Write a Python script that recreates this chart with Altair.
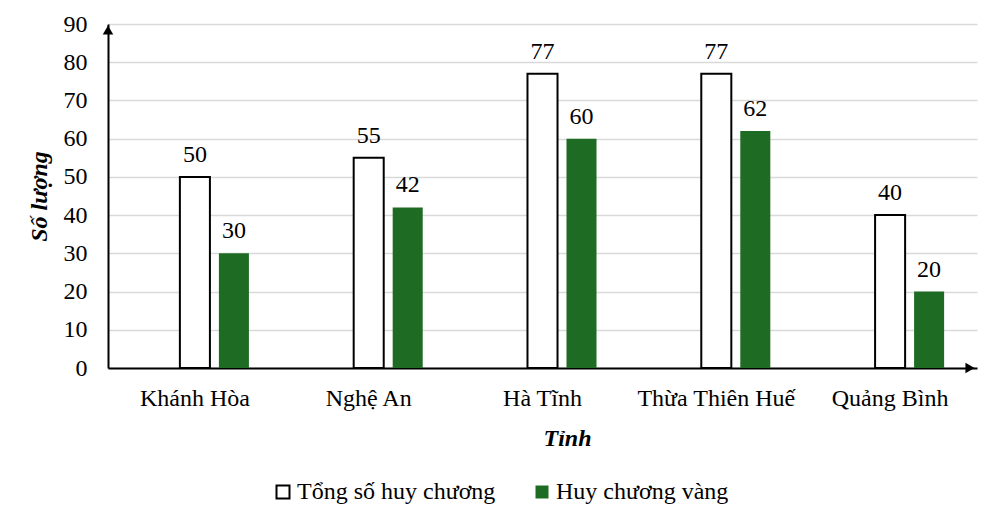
import altair as alt
import pandas as pd

provinces = ["Khánh Hòa", "Nghệ An", "Hà Tĩnh", "Thừa Thiên Huế", "Quảng Bình"]
total = [50, 55, 77, 77, 40]
gold = [30, 42, 60, 62, 20]
series = ["Tổng số huy chương", "Huy chương vàng"]
y_ticks = [0, 10, 20, 30, 40, 50, 60, 70, 80, 90]

rows = []
for p, t, g in zip(provinces, total, gold):
    rows.append({"Tỉnh": p, "Loại": series[0], "Số lượng": t})
    rows.append({"Tỉnh": p, "Loại": series[1], "Số lượng": g})
df = pd.DataFrame(rows)

FONT = "Liberation Serif"
FS = 24
GREEN = "#1e6b24"
W, H = 869, 344

x_enc = alt.X("Tỉnh:N", sort=provinces,
              scale=alt.Scale(paddingInner=0, paddingOuter=0),
              axis=alt.Axis(title="Tỉnh", labelAngle=0, labelFontSize=FS, labelColor="black",
                            labelPadding=18, ticks=False, domainColor="black", domainWidth=2,
                            labelLimit=0,
                            titleFontSize=FS, titleFontWeight="bold", titleFontStyle="italic",
                            titleColor="black", titlePadding=16, titleX=459, grid=False))
xo_enc = alt.XOffset("Loại:N", scale=alt.Scale(domain=[""] + series, paddingInner=0.23, paddingOuter=0.843))
y_enc = alt.Y("Số lượng:Q", scale=alt.Scale(domain=[0, 90], nice=False),
              axis=alt.Axis(title="Số lượng", values=y_ticks, labelFontSize=FS, labelColor="black",
                            labelPadding=21, ticks=False, domainColor="black", domainWidth=2,
                            labelOverlap=False, labelFlush=False,
                            gridColor="#d9d9d9", gridWidth=1.5,
                            titleFontSize=FS, titleFontWeight="bold", titleFontStyle="italic",
                            titleColor="black", titlePadding=12))

leg = alt.Legend(title=None, orient="none", legendX=163, legendY=456,
                 direction="horizontal", labelFontSize=FS, labelColor="black", labelLimit=0,
                 symbolType="square", symbolSize=169, symbolStrokeWidth=2,
                 labelOffset=2, columnPadding=34)

bars = alt.Chart(df).mark_bar(strokeWidth=2).encode(
    x=x_enc,
    xOffset=xo_enc,
    y=y_enc,
    fill=alt.Fill("Loại:N", scale=alt.Scale(domain=series, range=["white", GREEN]), legend=leg),
    stroke=alt.Stroke("Loại:N", scale=alt.Scale(domain=series, range=["black", "transparent"]), legend=leg),
)

labels = alt.Chart(df).mark_text(fontSize=FS, dy=-15, baseline="alphabetic", color="black").encode(
    x=x_enc,
    xOffset=xo_enc,
    y=y_enc,
    text=alt.Text("Số lượng:Q"),
)

arrow_df = pd.DataFrame({"a": [1]})
arrow_up = alt.Chart(arrow_df).mark_point(shape="triangle-up", filled=True, color="black",
                                          size=110, opacity=1).encode(
    x=alt.value(0), y=alt.value(6))
arrow_right = alt.Chart(arrow_df).mark_point(shape="triangle-right", filled=True, color="black",
                                             size=110, opacity=1).encode(
    x=alt.value(W - 7), y=alt.value(H))

chart = alt.layer(bars, labels, arrow_up, arrow_right).properties(
    width=W, height=H,
    padding={"left": 100, "top": 16, "right": 16, "bottom": 140},
    autosize=alt.AutoSizeParams(type="none"),
).configure(font=FONT).configure_view(stroke=None).configure_legend(labelFont=FONT)

chart.save("out.html", embed_options={"renderer": "svg", "actions": False})
